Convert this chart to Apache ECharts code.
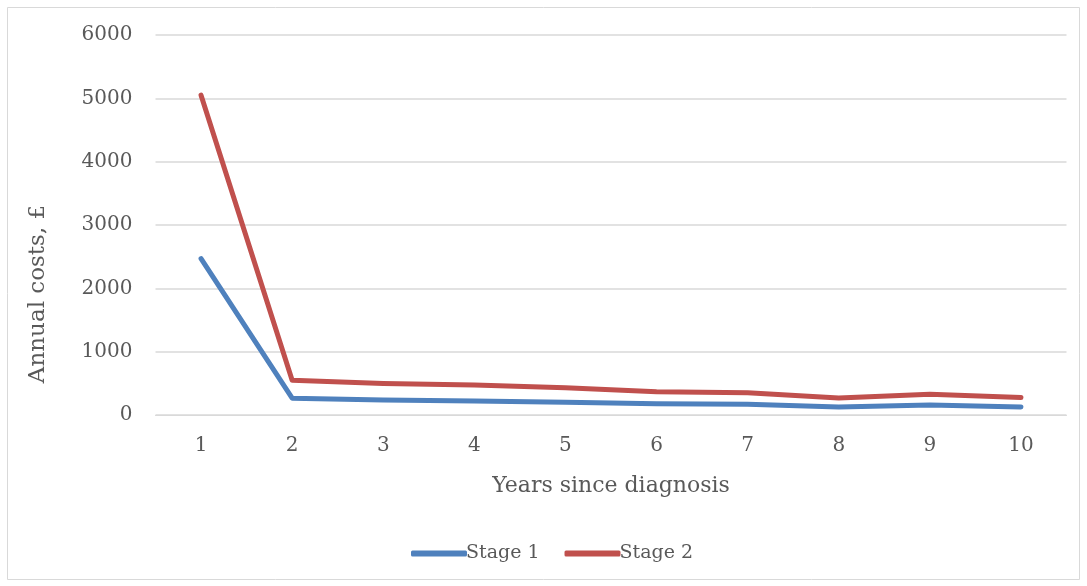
<!DOCTYPE html>
<html>
<head>
<meta charset="utf-8">
<script src="https://cdn.jsdelivr.net/npm/echarts@6/dist/echarts.min.js"></script>
<style>
  html, body { margin: 0; padding: 0; background: #fff; }
  #chart { width: 1087px; height: 586px; }
</style>
</head>
<body>
<div id="chart"></div>
<script>
// Years since diagnosis
const years = ['1', '2', '3', '4', '5', '6', '7', '8', '9', '10'];
// Annual costs (£) per stage
const stage1 = [2470, 265, 238, 222, 200, 178, 170, 127, 158, 128];
const stage2 = [5050, 548, 498, 474, 432, 368, 352, 270, 327, 275];
const yAxisTitle = 'Annual costs, £';

const textColor = '#595959';
const fontFamily = '"DejaVu Serif", "Liberation Serif", serif';

const chart = echarts.init(document.getElementById('chart'), null, { renderer: 'canvas' });
chart.setOption({
  backgroundColor: '#fff',
  animation: false,
  textStyle: { fontFamily: fontFamily, color: textColor },
  graphic: [
    {
      type: 'rect',
      shape: { x: 7.5, y: 7.5, width: 1072, height: 572 },
      style: { fill: 'none', stroke: '#D9D9D9', lineWidth: 1 },
      silent: true
    },
    {
      type: 'text',
      x: 38,
      y: 294,
      rotation: Math.PI / 2,
      style: {
        text: yAxisTitle,
        font: '23px ' + fontFamily,
        fill: textColor,
        align: 'center',
        verticalAlign: 'middle'
      },
      silent: true
    }
  ],
  grid: { left: 155.5, right: 20.5, top: 35, bottom: 171 },
  legend: {
    top: 544,
    left: 411,
    padding: 0,
    itemWidth: 56,
    itemHeight: 6,
    itemGap: 25,
    icon: 'roundRect',
    textStyle: { fontFamily: fontFamily, fontSize: 19, color: textColor, padding: [0, 0, 0, -6] },
    data: ['Stage 1', 'Stage 2']
  },
  xAxis: {
    type: 'category',
    data: years,
    boundaryGap: true,
    name: 'Years since diagnosis',
    nameLocation: 'middle',
    nameGap: 60,
    nameTextStyle: { fontFamily: fontFamily, fontSize: 22, color: textColor },
    axisLine: { show: true, lineStyle: { color: '#D9D9D9', width: 1 } },
    axisTick: { show: false },
    axisLabel: { fontFamily: fontFamily, fontSize: 20, color: textColor, margin: 21 }
  },
  yAxis: {
    type: 'value',
    min: 0,
    max: 6000,
    interval: 1000,
    axisLine: { show: false },
    axisTick: { show: false },
    axisLabel: {
      fontFamily: fontFamily, fontSize: 20, color: textColor, margin: 23,
      formatter: function (v) { return String(v); }
    },
    splitLine: { lineStyle: { color: '#D9D9D9', width: 1.5 } }
  },
  series: [
    {
      name: 'Stage 1',
      type: 'line',
      data: stage1,
      symbol: 'none',
      color: '#4F81BD',
      lineStyle: { width: 5, color: '#4F81BD', cap: 'round', join: 'round' }
    },
    {
      name: 'Stage 2',
      type: 'line',
      data: stage2,
      symbol: 'none',
      color: '#C0504D',
      lineStyle: { width: 5, color: '#C0504D', cap: 'round', join: 'round' }
    }
  ]
});
</script>
</body>
</html>
